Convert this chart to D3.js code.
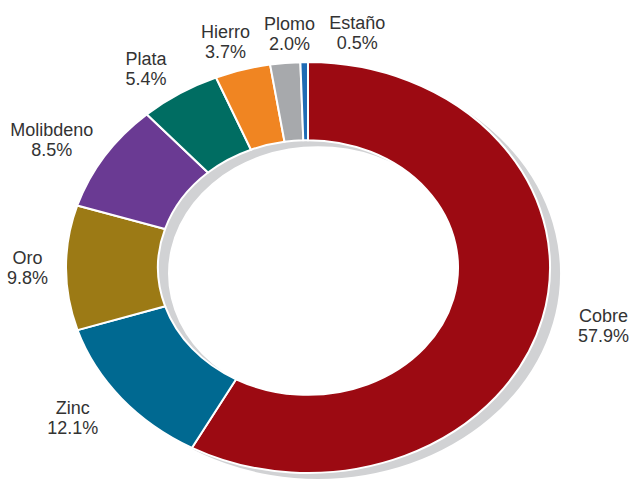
<!DOCTYPE html>
<html>
<head>
<meta charset="utf-8">
<script src="https://cdn.jsdelivr.net/npm/d3@7"></script>
<style>
  body {margin: 0; background: #fff;}
  text {font-family: "Liberation Sans", Arial, sans-serif;}
</style>
</head>
<body>
<div id="chart"></div>
<script>
var names = ['Cobre', 'Zinc', 'Oro', 'Molibdeno', 'Plata', 'Hierro', 'Plomo', 'Estaño']
var shares = [57.9, 12.1, 9.8, 8.5, 5.4, 3.7, 2.0, 0.5]
var colors = ['#9c0a12', '#006991', '#9c7a15', '#6a3a93', '#006d62', '#f08522', '#a7a9ac', '#1f6bb4']

var width = 640, height = 483
var cx = 308, cy = 267.5
var outer = 242, inner = 150, squash = 0.849

var svg = d3.select('#chart').append('svg')
  .attr('width', width).attr('height', height)

var data = names.map((name, i) => ({name, value: shares[i], color: colors[i]}))
var pie = d3.pie().sort(null).value(d => d.value)
var arcs = pie(data)
var arc = d3.arc().innerRadius(inner).outerRadius(outer)

// grey drop shadow behind the ring
svg.append('g')
  .attr('transform', `translate(${cx + 10},${cy + 6}) scale(1,${squash})`)
  .append('path')
  .attr('d', arc({startAngle: 0, endAngle: 2*Math.PI}))
  .attr('fill', '#d1d2d4')

var ring = svg.append('g')
  .attr('transform', `translate(${cx},${cy}) scale(1,${squash})`)

ring.selectAll('path.slice').data(arcs).enter().append('path')
  .attr('class', 'slice')
  .attr('d', arc)
  .attr('fill', d => d.data.color)
  .attr('stroke', '#fff')
  .attr('stroke-width', 2)
  .attr('vector-effect', 'non-scaling-stroke')

// labels sit on a wider ellipse along each slice's mid angle
var labelRx = 305, labelRy = 235
var labels = svg.selectAll('text.label').data(arcs).enter().append('text')
  .attr('class', 'label')
  .attr('text-anchor', 'middle')
  .attr('fill', '#333')
  .style('font-size', '18px')

labels.append('tspan').attr('class', 'l1').text(d => d.data.name)
labels.append('tspan').attr('class', 'l2').text(d => d3.format('.1f')(d.data.value) + '%')

var boxes = arcs.map(function(d, i){
  var a = (d.startAngle + d.endAngle)/2
  var node = labels.nodes()[i]
  var w = d3.max(d3.select(node).selectAll('tspan').nodes(), t => t.getComputedTextLength())
  var x = cx + labelRx*Math.sin(a)
  var y = cy - labelRy*Math.cos(a)
  x = Math.max(x, 7 + w/2)
  x = Math.min(x, width - 4 - w/2)
  return {x, y, w}
})

// push crowded labels apart horizontally
var order = d3.range(boxes.length).sort((a, b) => boxes[a].x - boxes[b].x)
for (var k = 1; k < order.length; k++){
  var prev = boxes[order[k - 1]], cur = boxes[order[k]]
  if (Math.abs(prev.y - cur.y) < 40){
    var minX = prev.x + prev.w/2 + 14 + cur.w/2
    if (cur.x < minX) cur.x = minX
  }
}

labels.each(function(d, i){
  var b = boxes[i]
  var sel = d3.select(this)
  sel.select('.l1').attr('x', b.x).attr('y', b.y - 3.5)
  sel.select('.l2').attr('x', b.x).attr('y', b.y + 16.5)
})
</script>
</body>
</html>
